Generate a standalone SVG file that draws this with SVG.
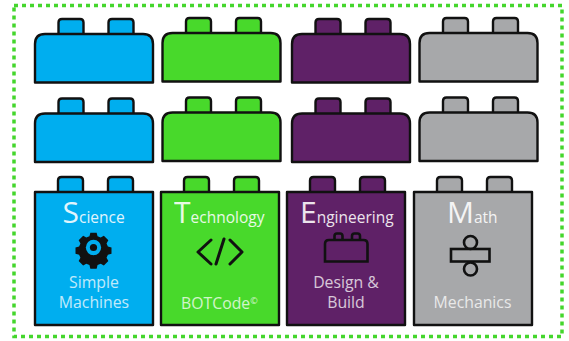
<svg xmlns="http://www.w3.org/2000/svg" width="569" height="341" viewBox="0 0 569 341">
<style>
.b{stroke:#111;stroke-width:2.400;stroke-linejoin:round}
.blue{fill:#00aeef}.green{fill:#48d92b}.purple{fill:#5f2167}.gray{fill:#a7a8aa}
.t{font-family:"Open Sans","DejaVu Sans",sans-serif;fill:#fff;opacity:.88}
.h{font-size:15.500px}.c{font-size:30px}.s{font-size:15.800px;text-anchor:middle;opacity:.75}
.i{fill:none;stroke:#111;stroke-width:2.600}
</style>
<defs>
<g id="brick">
<path class="b" d="M23.500 15V3.500Q23.500 0 27 0H45Q48.500 0 48.500 3.500V15M73.500 15V3.500Q73.500 0 77 0H95Q98.500 0 98.500 3.500V15"/>
<path class="b" d="M0 63.500V25Q0 15 10 15H108Q118 15 118 25V63.500Z"/>
</g>
<g id="tall">
<path class="b" d="M23 15V3.500Q23 0 26.500 0H44.500Q48 0 48 3.500V15M73 15V3.500Q73 0 76.500 0H94.500Q98 0 98 3.500V15"/>
<rect class="b" x="0" y="15" width="118" height="133"/>
</g>
</defs>
<rect x="14" y="5.500" width="548" height="331" fill="none" stroke="#44d62c" stroke-width="3.500" stroke-dasharray="4 4"/>
<g id="connectors"/>
<g id="brick-blue-1" class="blue"><use href="#brick" x="35" y="19"/></g>
<g id="brick-green-1" class="green"><use href="#brick" x="162.500" y="18"/></g>
<g id="brick-purple-1" class="purple"><use href="#brick" x="292" y="19"/></g>
<g id="brick-gray-1" class="gray"><use href="#brick" x="419.500" y="18"/></g>
<g id="brick-blue-2" class="blue"><use href="#brick" x="35" y="98.500"/></g>
<g id="brick-green-2" class="green"><use href="#brick" x="162.500" y="97.500"/></g>
<g id="brick-purple-2" class="purple"><use href="#brick" x="292" y="98.500"/></g>
<g id="brick-gray-2" class="gray"><use href="#brick" x="419.500" y="97.500"/></g>

<g id="science" class="blue"><use href="#tall" x="35" y="177"/>
<text class="t" x="62.500" y="222.500"><tspan class="c">S</tspan><tspan class="h">cience</tspan></text>
<g transform="translate(93.500 247.500) scale(.9) translate(-93.500 -247.500)">
<path fill="#111" d="M90 231h7l1 4 3.500 1.500 3.500-2 5 5-2 3.500 1.500 3.500 4 1v7l-4 1-1.500 3.500 2 3.500-5 5-3.500-2-3.500 1.500-1 4h-7l-1-4-3.500-1.500-3.500 2-5-5 2-3.500-1.500-3.500-4-1v-7l4-1 1.500-3.500-2-3.500 5-5 3.500 2 3.500-1.500z"/>
<circle cx="93.500" cy="247.500" r="8.500" fill="#00aeef"/><circle cx="93.500" cy="247.500" r="4" fill="#111"/></g>
<text class="t s" x="94" y="288">Simple</text><text class="t s" x="94" y="308">Machines</text></g>

<g id="technology" class="green"><use href="#tall" x="161" y="177"/>
<text class="t" x="174" y="222.500"><tspan class="c">T</tspan><tspan class="h">echnology</tspan></text>
<path fill="none" stroke="#111" stroke-width="3" stroke-linecap="round" stroke-linejoin="round" d="M211 240L198 252L211 264M230 240L242 252L230 264M224 239L216 264"/>
<text class="t" x="181" y="309" style="font-size:15.800px;opacity:.75">BOTCode<tspan dy="-5" font-size="9">©</tspan></text></g>

<g id="engineering" class="purple"><use href="#tall" x="287" y="177"/>
<text class="t" x="300" y="222.500"><tspan class="c">E</tspan><tspan class="h">ngineering</tspan></text>
<path class="i" d="M334.500 240V236Q334.500 233.500 337 233.500H340Q342.500 233.500 342.500 236V240M352 240V236Q352 233.500 354.500 233.500H357.500Q360 233.500 360 236V240"/>
<path class="i" d="M325 261.500V244Q325 240 329 240H363.500Q367.500 240 367.500 244V261.500Z"/>
<text class="t s" x="346" y="288">Design &amp;</text><text class="t s" x="346" y="308">Build</text></g>

<g id="math" class="gray"><use href="#tall" x="414" y="177"/>
<text class="t" x="447" y="222.500"><tspan class="c">M</tspan><tspan class="h">ath</tspan></text>
<circle class="i" cx="470.500" cy="242.500" r="6.500"/><rect class="i" x="451" y="249" width="38.500" height="12.500"/><circle class="i" cx="470.500" cy="269" r="6.500"/>
<text class="t s" x="472.500" y="308">Mechanics</text></g>
</svg>
